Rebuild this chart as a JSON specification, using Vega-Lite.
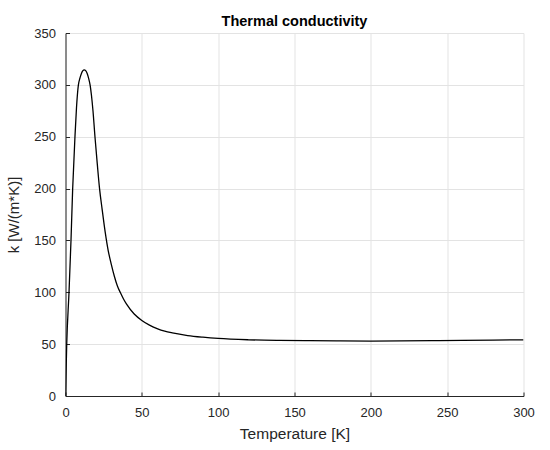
{
  "$schema": "https://vega.github.io/schema/vega-lite/v6.json",
  "width": 458,
  "height": 363,
  "autosize": {"type": "none"},
  "padding": {"left": 65.5, "top": 33, "right": 26.5, "bottom": 54},
  "background": "white",
  "config": {
    "font": "Liberation Sans",
    "view": {"stroke": null},
    "axis": {
      "domainColor": "#262626",
      "tickColor": "#262626",
      "gridColor": "#e3e3e3",
      "labelColor": "#262626",
      "titleColor": "#262626",
      "labelFont": "Liberation Sans",
      "titleFont": "Liberation Sans",
      "labelFontSize": 13,
      "titleFontSize": 15,
      "titleFontWeight": "normal",
      "tickSize": -4,
      "labelPadding": 14,
      "labelFlush": false
    }
  },
  "title": {
    "text": "Thermal conductivity",
    "font": "Liberation Sans",
    "fontSize": 14.5,
    "fontWeight": "bold",
    "color": "#000000",
    "anchor": "middle",
    "offset": -2
  },
  "data": {
    "values": [
      {"T": 0, "k": 0},
      {"T": 0.8, "k": 50},
      {"T": 2.3, "k": 100},
      {"T": 3.6, "k": 150},
      {"T": 4.7, "k": 200},
      {"T": 6.2, "k": 250},
      {"T": 7.2, "k": 278},
      {"T": 8.4, "k": 299.5},
      {"T": 9.5, "k": 306.7},
      {"T": 10.5, "k": 311.3},
      {"T": 11.4, "k": 313.7},
      {"T": 12.3, "k": 314.5},
      {"T": 13.2, "k": 313.7},
      {"T": 14.2, "k": 310.9},
      {"T": 15.2, "k": 306},
      {"T": 16.1, "k": 300},
      {"T": 17, "k": 290},
      {"T": 18, "k": 275},
      {"T": 19.3, "k": 250},
      {"T": 20.8, "k": 224},
      {"T": 22.3, "k": 200},
      {"T": 24, "k": 180},
      {"T": 26, "k": 158},
      {"T": 28, "k": 140},
      {"T": 30, "k": 127},
      {"T": 32, "k": 115.5},
      {"T": 34, "k": 106},
      {"T": 36, "k": 99.5},
      {"T": 38, "k": 93.5},
      {"T": 40, "k": 88.5},
      {"T": 45, "k": 79},
      {"T": 50, "k": 72.8},
      {"T": 55, "k": 68.3},
      {"T": 60, "k": 65},
      {"T": 65, "k": 62.5},
      {"T": 70, "k": 60.8},
      {"T": 80, "k": 58.3},
      {"T": 90, "k": 56.7},
      {"T": 100, "k": 55.5},
      {"T": 120, "k": 54.2},
      {"T": 140, "k": 53.6},
      {"T": 160, "k": 53.3},
      {"T": 180, "k": 53.1},
      {"T": 200, "k": 53.0},
      {"T": 220, "k": 53.1},
      {"T": 240, "k": 53.3},
      {"T": 260, "k": 53.6},
      {"T": 280, "k": 53.9},
      {"T": 300, "k": 54.2}
    ]
  },
  "mark": {"type": "line", "color": "#000000", "strokeWidth": 1.3, "interpolate": "monotone", "clip": true},
  "encoding": {
    "x": {
      "field": "T",
      "type": "quantitative",
      "title": "Temperature [K]",
      "scale": {"domain": [0, 300], "nice": false},
      "axis": {"values": [0, 50, 100, 150, 200, 250, 300], "titlePadding": 7, "titleFontSize": 15.5}
    },
    "y": {
      "field": "k",
      "type": "quantitative",
      "title": "k [W/(m*K)]",
      "scale": {"domain": [0, 350], "nice": false},
      "axis": {"values": [0, 50, 100, 150, 200, 250, 300, 350], "titlePadding": 12}
    }
  }
}
